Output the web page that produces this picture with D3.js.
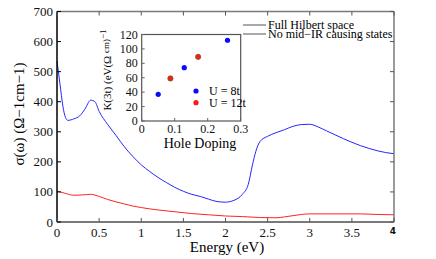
<!DOCTYPE html>
<html><head><meta charset="utf-8"><script src="https://cdn.jsdelivr.net/npm/d3@7"></script></head>
<body style="margin:0">
<script>
// main plot: optical conductivity vs energy
var energy = [0, 0.035, 0.07, 0.1, 0.13, 0.2, 0.27, 0.33, 0.4, 0.45, 0.5, 0.6, 0.7, 0.8, 0.9, 1.0,
    1.1, 1.2, 1.3, 1.4, 1.5, 1.6, 1.7, 1.8, 1.9, 2.0, 2.1, 2.2, 2.27, 2.32, 2.36, 2.41, 2.5,
    2.6, 2.7, 2.8, 2.9, 3.0, 3.1, 3.2, 3.3, 3.4, 3.5, 3.6, 3.7, 3.8, 3.9, 4.0];
var sigmaFull = [535, 460, 385, 348, 338, 343, 353, 375, 405, 400, 368, 325, 288, 250, 218, 190,
    168, 148, 131, 115, 102, 92, 85, 76, 68, 66, 72, 92, 125, 190, 235, 268, 285,
    297, 307, 318, 324, 325, 316, 303, 290, 277, 265, 254, 245, 237, 231, 227];

var energyNoIR = [0, 0.1, 0.2, 0.3, 0.4, 0.5, 0.6, 0.7, 0.8, 0.9, 1.0, 1.2, 1.4, 1.6, 1.8, 2.0,
    2.2, 2.4, 2.6, 2.7, 2.8, 2.9, 3.0, 3.3, 3.6, 3.8, 4.0];
var sigmaNoIR = [103, 95, 89, 90, 92, 85, 75, 67, 60, 53, 48, 40, 34, 28, 24, 20,
    18, 15, 14, 17, 21, 25, 27, 27, 27, 25, 24];

var xTicks = [0, 0.5, 1, 1.5, 2, 2.5, 3, 3.5, 4];
var yTicks = [0, 100, 200, 300, 400, 500, 600, 700];

// inset: K(3t) vs hole doping
var dopingU8 = [0.05, 0.129, 0.26];
var kU8 = [37, 74, 112];
var dopingU12 = [0.087, 0.171];
var kU12 = [59, 89];
var insetXTicks = [0, 0.1, 0.2, 0.3];
var insetYTicks = [0, 20, 40, 60, 80, 100, 120];

var legendLabels = ['Full Hilbert space', 'No mid\u2212IR causing states'];
var insetLegend = ['U = 8t', 'U = 12t'];

var serif = 'Liberation Serif';

var svg = d3.select('body').append('svg')
        .attr('width', 436)
        .attr('height', 259)
        .style('display', 'block');

svg.append('rect').attr('width', 436).attr('height', 259).attr('fill', '#fff');

var x = d3.scaleLinear().domain([0, 4]).range([57, 394]);
var y = d3.scaleLinear().domain([0, 700]).range([222, 11.5]);

// put a text straight on the svg, in the serif face
var addText = function(parent, size){
    return parent.append('text').attr('font-family', serif).attr('font-size', size);
};

// curves
var line = d3.line()
        .x(function(d){ return x(d[0]); })
        .y(function(d){ return y(d[1]); })
        .curve(d3.curveMonotoneX);

svg.append('path')
        .attr('d', line(d3.zip(energy, sigmaFull)))
        .attr('fill', 'none')
        .attr('stroke', '#2626ff')
        .attr('stroke-width', 1);

svg.append('path')
        .attr('d', line(d3.zip(energyNoIR, sigmaNoIR)))
        .attr('fill', 'none')
        .attr('stroke', '#ff2222')
        .attr('stroke-width', 1);

// frame: top/right/bottom gray, left black
svg.append('line').attr('x1', x(0)).attr('x2', x(4)).attr('y1', y(700)).attr('y2', y(700))
        .attr('stroke', '#7a7a7a').attr('stroke-width', 1.5);
svg.append('line').attr('x1', x(4)).attr('x2', x(4)).attr('y1', y(700)).attr('y2', y(0))
        .attr('stroke', '#7a7a7a').attr('stroke-width', 1.5);
svg.append('line').attr('x1', x(0)).attr('x2', x(4)).attr('y1', y(0)).attr('y2', y(0))
        .attr('stroke', '#7a7a7a').attr('stroke-width', 2);
svg.append('line').attr('x1', x(0)).attr('x2', x(0)).attr('y1', y(700)).attr('y2', y(0))
        .attr('stroke', '#000').attr('stroke-width', 1.5);

// ticks, inward on all four sides
var ticks = svg.append('g');
xTicks.forEach(function(d){
    ticks.append('line').attr('x1', x(d)).attr('x2', x(d)).attr('y1', y(0)).attr('y2', y(0) - 4)
            .attr('stroke', '#555');
    ticks.append('line').attr('x1', x(d)).attr('x2', x(d)).attr('y1', y(700)).attr('y2', y(700) + 4)
            .attr('stroke', '#555');
    var t = addText(svg, 13)
            .attr('x', x(d)).attr('y', y(0) + 15)
            .attr('text-anchor', 'middle')
            .attr('fill', '#111')
            .text(d);
    // the last label is drawn in a small bold sans face in the original
    if (d === 4) {
        t.attr('font-family', 'DejaVu Sans').attr('font-size', 9).attr('font-weight', 'bold')
                .attr('x', x(d) - 1).attr('y', y(0) + 12);
    }
});
yTicks.forEach(function(d){
    ticks.append('line').attr('x1', x(0)).attr('x2', x(0) + 4).attr('y1', y(d)).attr('y2', y(d))
            .attr('stroke', '#000');
    ticks.append('line').attr('x1', x(4)).attr('x2', x(4) - 4).attr('y1', y(d)).attr('y2', y(d))
            .attr('stroke', '#555');
    addText(svg, 13)
            .attr('x', x(0) - 4).attr('y', y(d) + 4.5)
            .attr('text-anchor', 'end')
            .attr('fill', '#111')
            .text(d);
});

// axis titles
addText(svg, 15)
        .attr('x', 227).attr('y', 252)
        .attr('text-anchor', 'middle')
        .text('Energy (eV)');

addText(svg, 15)
        .attr('text-anchor', 'middle')
        .attr('transform', 'translate(24,114)rotate(-90)')
        .text('\u03c3(\u03c9) (\u03a9\u22121cm\u22121)');

// main legend
legendLabels.forEach(function(label, i){
    var ly = 25 + i * 9;
    svg.append('line')
            .attr('x1', 243).attr('x2', 266)
            .attr('y1', ly).attr('y2', ly)
            .attr('stroke', '#555').attr('stroke-width', 1);
    addText(svg, 12)
            .attr('x', 268).attr('y', ly + 3.5)
            .text(label);
});

// inset
var ix = d3.scaleLinear().domain([0, 0.3]).range([141.7, 240.7]);
var iy = d3.scaleLinear().domain([0, 120]).range([121, 34.5]);

svg.append('rect')
        .attr('x', ix(0)).attr('y', iy(120))
        .attr('width', ix(0.3) - ix(0)).attr('height', iy(0) - iy(120))
        .attr('fill', '#fff')
        .attr('stroke', '#555').attr('stroke-width', 1.2);

insetXTicks.forEach(function(d){
    svg.append('line').attr('x1', ix(d)).attr('x2', ix(d)).attr('y1', iy(0)).attr('y2', iy(0) - 3)
            .attr('stroke', '#666');
    addText(svg, 12)
            .attr('x', ix(d)).attr('y', iy(0) + 12)
            .attr('text-anchor', 'middle')
            .attr('fill', '#111')
            .text(d);
});
insetYTicks.forEach(function(d){
    svg.append('line').attr('x1', ix(0)).attr('x2', ix(0) + 3).attr('y1', iy(d)).attr('y2', iy(d))
            .attr('stroke', '#666');
    addText(svg, 12)
            .attr('x', ix(0) - 4).attr('y', iy(d) + 4)
            .attr('text-anchor', 'end')
            .attr('fill', '#111')
            .text(d);
});

addText(svg, 14)
        .attr('x', 200).attr('y', 148)
        .attr('text-anchor', 'middle')
        .text('Hole Doping');

var iLabel = addText(svg, 11)
        .attr('transform', 'translate(111,70)rotate(-90)')
        .attr('text-anchor', 'middle');
iLabel.append('tspan').text('K(3t) (eV(\u03a9 ');
iLabel.append('tspan').attr('dy', -2).attr('font-size', 9).text('cm)');
iLabel.append('tspan').attr('dy', -3).attr('font-size', 9).text('\u22121');

svg.append('g').selectAll('circle').data(d3.zip(dopingU8, kU8)).enter().append('circle')
        .attr('cx', function(d){ return ix(d[0]); })
        .attr('cy', function(d){ return iy(d[1]); })
        .attr('r', 2.6)
        .attr('fill', '#0a0aff');

svg.append('g').selectAll('circle').data(d3.zip(dopingU12, kU12)).enter().append('circle')
        .attr('cx', function(d){ return ix(d[0]); })
        .attr('cy', function(d){ return iy(d[1]); })
        .attr('r', 2.6)
        .attr('fill', '#ff1a1a')
        .attr('stroke', '#6b5a20')
        .attr('stroke-width', 0.8);

var iLegendColors = ['#0a0aff', '#ff1a1a'];
insetLegend.forEach(function(label, i){
    var ly = 91 + i * 11.7;
    svg.append('circle')
            .attr('cx', 196).attr('cy', ly).attr('r', 2.6)
            .attr('fill', iLegendColors[i]);
    addText(svg, 12)
            .attr('x', 209).attr('y', ly + 4)
            .text(label);
});
</script></body></html>
